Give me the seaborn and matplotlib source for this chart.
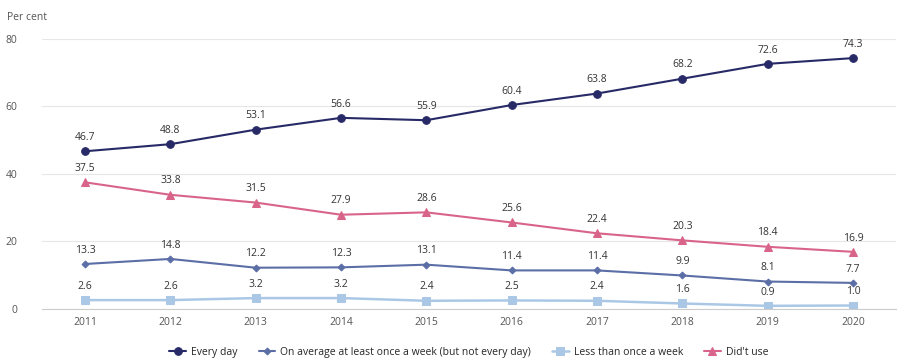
import pandas as pd
import matplotlib.pyplot as plt
import seaborn as sns

years = ['2011', '2012', '2013', '2014', '2015', '2016', '2017', '2018', '2019', '2020']
every_day = [46.7, 48.8, 53.1, 56.6, 55.9, 60.4, 63.8, 68.2, 72.6, 74.3]
weekly = [13.3, 14.8, 12.2, 12.3, 13.1, 11.4, 11.4, 9.9, 8.1, 7.7]
less_weekly = [2.6, 2.6, 3.2, 3.2, 2.4, 2.5, 2.4, 1.6, 0.9, 1.0]
didnt_use = [37.5, 33.8, 31.5, 27.9, 28.6, 25.6, 22.4, 20.3, 18.4, 16.9]
series_names = ['Every day', 'On average at least once a week (but not every day)',
                'Less than once a week', "Did't use"]

# long form table for seaborn
frames = []
for name, vals in zip(series_names, [every_day, weekly, less_weekly, didnt_use]):
    frames.append(pd.DataFrame({'year': years, 'value': vals, 'series': name}))
data = pd.concat(frames, ignore_index=True)
data['pos'] = data['year'].map({y: i for i, y in enumerate(years)})

colors = ['#272a66', '#5b6ea6', '#aac8e6', '#d9648a']
markers = ['o', 'D', 's', '^']
msizes = [5.5, 3.5, 5.5, 5.5]

sns.set_style('white')
plt.rcParams['font.family'] = ['Open Sans', 'DejaVu Sans']

fig, ax = plt.subplots(figsize=(9.01, 3.6), dpi=100)
fig.subplots_adjust(left=0.047, right=0.994, top=0.892, bottom=0.142)

for name, col, mk, ms in zip(series_names, colors, markers, msizes):
    sub = data[data['series'] == name]
    lw = 1.8 if name == 'Less than once a week' else 1.5
    sns.lineplot(data=sub, x='pos', y='value', color=col, marker=mk, markersize=ms,
                 markeredgecolor=col, linewidth=lw, label=name, ax=ax)
    for _, r in sub.iterrows():
        ax.annotate(f"{r['value']:.1f}", (r['pos'], r['value']), xytext=(0, 6),
                    textcoords='offset points', ha='center', va='bottom',
                    fontsize=7.5, color='#333333')

ax.set_xlim(-0.5, 9.5)
ax.set_ylim(0, 80)
ax.set_yticks([0, 20, 40, 60, 80])
ax.set_xticks(range(len(years)))
ax.set_xticklabels(years)
ax.set_xticks([i - 0.5 for i in range(len(years) + 1)], minor=True)
ax.tick_params(axis='x', which='major', length=0, labelsize=7.5, colors='#555555', pad=6)
ax.tick_params(axis='x', which='minor', length=5, color='#cccccc', width=0.8)
ax.tick_params(axis='y', length=0, labelsize=7.5, colors='#555555', pad=18)
ax.yaxis.grid(True, color='#e6e6e6', linewidth=0.8)
for s in ['top', 'right', 'left']:
    ax.spines[s].set_visible(False)
ax.spines['bottom'].set_color('#cccccc')
ax.set_xlabel('')
ax.set_ylabel('')
fig.text(0.008, 0.945, 'Per cent', fontsize=7.5, color='#555555')

ax.legend(loc='center', bbox_to_anchor=(0.5, -0.16), ncol=4, frameon=False,
          fontsize=7.5, handlelength=1.6, columnspacing=2.0, handletextpad=0.5)

fig.savefig('out.png', dpi=100)
